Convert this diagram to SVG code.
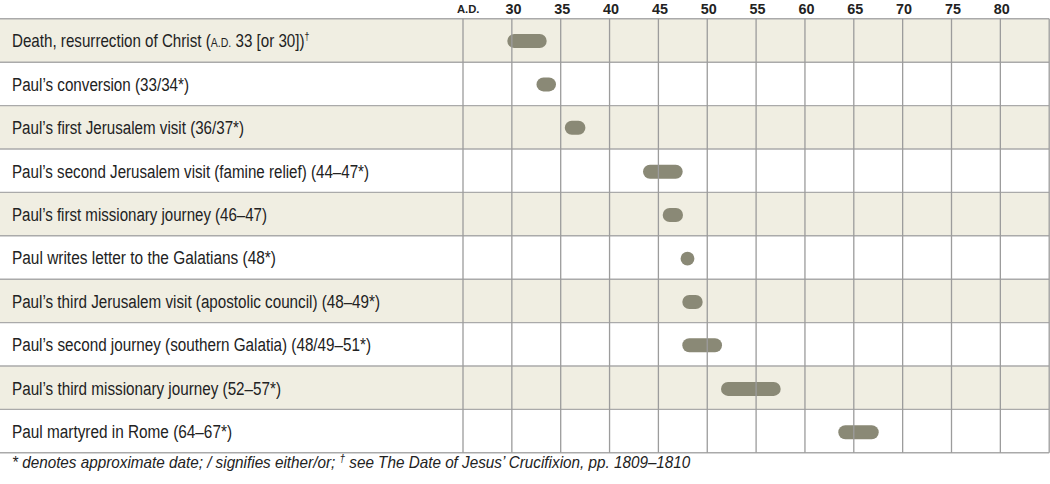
<svg xmlns="http://www.w3.org/2000/svg" width="1050" height="484" viewBox="0 0 1050 484">
<style>
.bg{fill:#ffffff}
.alt{fill:#f0eee2}
.lbl{font-family:"Liberation Sans",Arial,sans-serif;font-size:18px;fill:#222}
.bar{fill:#8a8976}
.yr{font-family:"Liberation Sans",Arial,sans-serif;font-size:14.5px;font-weight:bold;fill:#222;text-anchor:middle}
.ad{font-family:"Liberation Sans",Arial,sans-serif;font-size:10px;font-weight:bold;fill:#222}
.hl{stroke:#aaaaaa;stroke-width:1.4;fill:none}
.vl{stroke:#9c9c9c;stroke-width:1.3;fill:none}
.foot{font-family:"Liberation Sans",Arial,sans-serif;font-size:16px;font-style:italic;fill:#222}
.sc{font-size:12.5px}
.sup{font-size:10.5px}
</style>
<rect x="0" y="0" width="1050" height="484" fill="#ffffff"/>

<g id="header">
<text class="ad" x="457" y="12.5" textLength="22.5" lengthAdjust="spacingAndGlyphs">A.D.</text>
<text class="yr" x="513.4" y="13.5" textLength="16" lengthAdjust="spacingAndGlyphs">30</text>
<text class="yr" x="562.2" y="13.5" textLength="16" lengthAdjust="spacingAndGlyphs">35</text>
<text class="yr" x="611" y="13.5" textLength="16" lengthAdjust="spacingAndGlyphs">40</text>
<text class="yr" x="659.9" y="13.5" textLength="16" lengthAdjust="spacingAndGlyphs">45</text>
<text class="yr" x="708.7" y="13.5" textLength="16" lengthAdjust="spacingAndGlyphs">50</text>
<text class="yr" x="757.6" y="13.5" textLength="16" lengthAdjust="spacingAndGlyphs">55</text>
<text class="yr" x="806.4" y="13.5" textLength="16" lengthAdjust="spacingAndGlyphs">60</text>
<text class="yr" x="855.3" y="13.5" textLength="16" lengthAdjust="spacingAndGlyphs">65</text>
<text class="yr" x="904.1" y="13.5" textLength="16" lengthAdjust="spacingAndGlyphs">70</text>
<text class="yr" x="953" y="13.5" textLength="16" lengthAdjust="spacingAndGlyphs">75</text>
<text class="yr" x="1001.8" y="13.5" textLength="16" lengthAdjust="spacingAndGlyphs">80</text>
</g>

<g id="row1">
<rect class="alt" x="0" y="18.8" width="1049.2" height="43.4"/>
<text class="lbl" transform="translate(12 47.3) scale(0.843 1)">Death, resurrection of Christ (<tspan class="sc">A.D.</tspan> 33 [or 30])<tspan class="sup" dy="-7">†</tspan></text>
<rect class="bar" x="507.3" y="34" width="39.4" height="14" rx="7"/>
</g>
<g id="row2">
<rect class="bg" x="0" y="62.2" width="1049.2" height="43.4"/>
<text class="lbl" x="12" y="90.7" textLength="177" lengthAdjust="spacingAndGlyphs">Paul’s conversion (33/34*)</text>
<rect class="bar" x="536.5" y="77.4" width="19.5" height="14" rx="7"/>
</g>
<g id="row3">
<rect class="alt" x="0" y="105.6" width="1049.2" height="43.4"/>
<text class="lbl" x="12" y="134.1" textLength="232" lengthAdjust="spacingAndGlyphs">Paul’s first Jerusalem visit (36/37*)</text>
<rect class="bar" x="564.8" y="120.8" width="20.6" height="14" rx="7"/>
</g>
<g id="row4">
<rect class="bg" x="0" y="149" width="1049.2" height="43.4"/>
<text class="lbl" x="12" y="177.5" textLength="357" lengthAdjust="spacingAndGlyphs">Paul’s second Jerusalem visit (famine relief) (44–47*)</text>
<rect class="bar" x="643" y="164.8" width="39.7" height="14" rx="7"/>
</g>
<g id="row5">
<rect class="alt" x="0" y="192.4" width="1049.2" height="43.4"/>
<text class="lbl" x="12" y="220.9" textLength="255" lengthAdjust="spacingAndGlyphs">Paul’s first missionary journey (46–47)</text>
<rect class="bar" x="662.7" y="208" width="20.3" height="14" rx="7"/>
</g>
<g id="row6">
<rect class="bg" x="0" y="235.8" width="1049.2" height="43.4"/>
<text class="lbl" x="12" y="264.3" textLength="264" lengthAdjust="spacingAndGlyphs">Paul writes letter to the Galatians (48*)</text>
<circle class="bar" cx="687.5" cy="258.7" r="6.9"/>
</g>
<g id="row7">
<rect class="alt" x="0" y="279.2" width="1049.2" height="43.4"/>
<text class="lbl" x="12" y="307.7" textLength="368" lengthAdjust="spacingAndGlyphs">Paul’s third Jerusalem visit (apostolic council) (48–49*)</text>
<rect class="bar" x="682.3" y="295" width="20.4" height="14" rx="7"/>
</g>
<g id="row8">
<rect class="bg" x="0" y="322.6" width="1049.2" height="43.4"/>
<text class="lbl" x="12" y="351.1" textLength="359" lengthAdjust="spacingAndGlyphs">Paul’s second journey (southern Galatia) (48/49–51*)</text>
<rect class="bar" x="682.3" y="338.3" width="39.7" height="14" rx="7"/>
</g>
<g id="row9">
<rect class="alt" x="0" y="366" width="1049.2" height="43.4"/>
<text class="lbl" x="12" y="394.5" textLength="269" lengthAdjust="spacingAndGlyphs">Paul’s third missionary journey (52–57*)</text>
<rect class="bar" x="721" y="381.9" width="59.7" height="14" rx="7"/>
</g>
<g id="row10">
<rect class="bg" x="0" y="409.4" width="1049.2" height="43.4"/>
<text class="lbl" x="12" y="437.9" textLength="220" lengthAdjust="spacingAndGlyphs">Paul martyred in Rome (64–67*)</text>
<rect class="bar" x="838.3" y="425.2" width="40.4" height="14" rx="7"/>
</g>

<g id="grid">
<path class="hl" d="M0 18.8H1049.2M0 62.2H1049.2M0 105.6H1049.2M0 149H1049.2M0 192.4H1049.2M0 235.8H1049.2M0 279.2H1049.2M0 322.6H1049.2M0 366H1049.2M0 409.4H1049.2M0 452.8H1049.2"/>
<path class="vl" d="M463 18.8V452.8M511.85 18.8V452.8M560.7 18.8V452.8M609.55 18.8V452.8M658.4 18.8V452.8M707.25 18.8V452.8M756.1 18.8V452.8M804.95 18.8V452.8M853.8 18.8V452.8M902.65 18.8V452.8M951.5 18.8V452.8M1000.35 18.8V452.8M1049.2 18.8V452.8"/>
</g>

<g id="footnote">
<text class="foot" transform="translate(12 468) scale(0.955 1)">* denotes approximate date; / signifies either/or; <tspan class="sup" dy="-6">†</tspan><tspan dy="6"> see The Date of Jesus’ Crucifixion, pp. 1809–1810</tspan></text>
</g>
</svg>
